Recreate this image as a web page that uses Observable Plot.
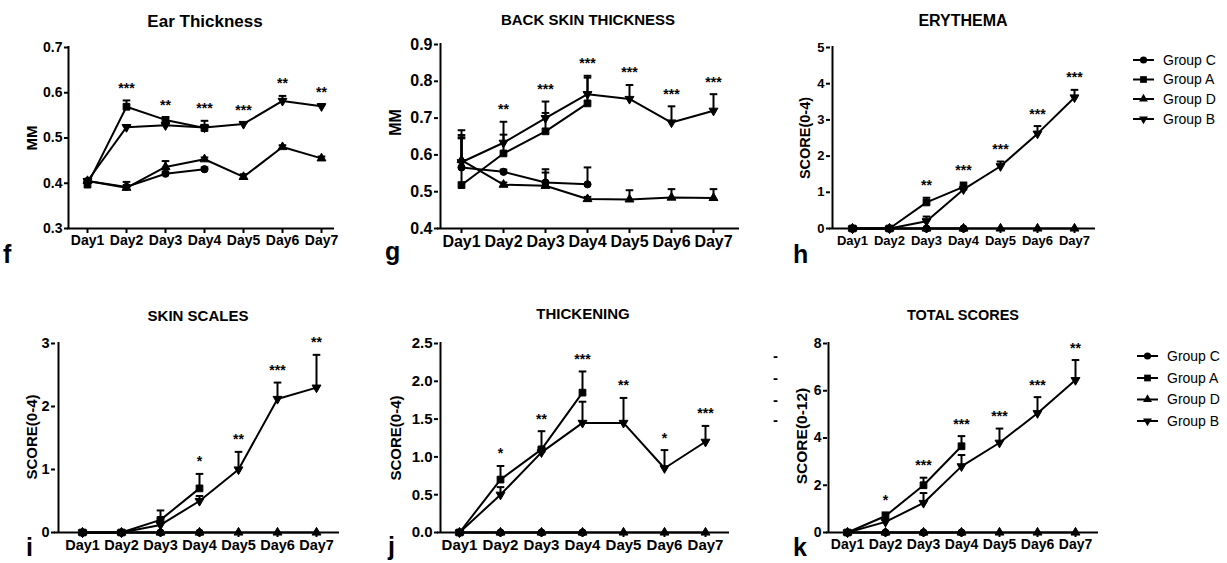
<!DOCTYPE html>
<html>
<head>
<meta charset="utf-8">
<script src="https://cdn.jsdelivr.net/npm/d3@7"></script>
<script src="https://cdn.jsdelivr.net/npm/@observablehq/plot@0.6"></script>
<style>
html,body{margin:0;padding:0;background:#fff;}
#fig{position:relative;width:1227px;height:563px;overflow:hidden;background:#fff;color:#000;}
#fig svg{position:absolute;}
</style>
</head>
<body>
<div id="fig"></div>
<script>
// ---------- shared categories ----------
const days = ["Day1","Day2","Day3","Day4","Day5","Day6","Day7"];
const groups = ["Group C","Group A","Group D","Group B"];

// ---------- f: Ear Thickness (MM) ----------
const earC = [0.405, 0.392, 0.421, 0.431];
const earCErr = [0.004, 0.004, 0.005, 0.004];
const earA = [0.397, 0.569, 0.540, 0.522];
const earAErr = [0.006, 0.014, 0.006, 0.016];
const earD = [0.405, 0.390, 0.436, 0.453, 0.414, 0.480, 0.455];
const earDErr = [0.004, 0.013, 0.013, 0.004, 0.006, 0.004, 0.004];
const earB = [0.405, 0.524, 0.528, 0.523, 0.531, 0.582, 0.570];
const earBErr = [0.004, 0.004, 0.006, 0.006, 0.003, 0.011, 0.005];
const earStars = ["", "***", "**", "***", "***", "**", "**"];
const earTicks = [0.3, 0.4, 0.5, 0.6, 0.7];

// ---------- g: Back skin thickness (MM) ----------
const backC = [0.566, 0.554, 0.525, 0.520];
const backCErr = [0.082, 0.006, 0.036, 0.046];
const backA = [0.518, 0.604, 0.664, 0.740];
const backAErr = [0.127, 0.086, 0.050, 0.070];
const backD = [0.586, 0.519, 0.516, 0.480, 0.479, 0.484, 0.483];
const backDErr = [0.068, 0.006, 0.036, 0.006, 0.025, 0.023, 0.024];
const backB = [0.580, 0.633, 0.700, 0.765, 0.752, 0.688, 0.720];
const backBErr = [0.087, 0.022, 0.045, 0.050, 0.038, 0.044, 0.045];
const backStars = ["", "**", "***", "***", "***", "***", "***"];
const backTicks = [0.4, 0.5, 0.6, 0.7, 0.8, 0.9];

// ---------- h: Erythema score (0-4) ----------
const eryC = [0, 0, 0, 0];
const eryCErr = [0, 0, 0, 0];
const eryA = [0, 0, 0.72, 1.15];
const eryAErr = [0, 0, 0.13, 0.12];
const eryD = [0, 0, 0, 0, 0, 0, 0];
const eryDErr = [0, 0, 0, 0, 0, 0, 0];
const eryB = [0, 0, 0.20, 1.08, 1.72, 2.62, 3.62];
const eryBErr = [0, 0, 0.13, 0.06, 0.13, 0.21, 0.21];
const eryStars = ["", "", "**", "***", "***", "***", "***"];
const eryTicks = [0, 1, 2, 3, 4, 5];

// ---------- i: Skin scales score (0-4) ----------
const scaC = [0, 0, 0, 0];
const scaCErr = [0, 0, 0, 0];
const scaA = [0, 0, 0.20, 0.70];
const scaAErr = [0, 0, 0.15, 0.23];
const scaD = [0, 0, 0, 0, 0, 0, 0];
const scaDErr = [0, 0, 0, 0, 0, 0, 0];
const scaB = [0, 0, 0.12, 0.50, 1.00, 2.12, 2.30];
const scaBErr = [0, 0, 0.10, 0.08, 0.28, 0.26, 0.52];
const scaStars = ["", "", "", "*", "**", "***", "**"];
const scaTicks = [0, 1, 2, 3];

// ---------- j: Thickening score (0-4) ----------
const thkC = [0, 0, 0, 0];
const thkCErr = [0, 0, 0, 0];
const thkA = [0, 0.70, 1.10, 1.85];
const thkAErr = [0, 0.18, 0.24, 0.28];
const thkD = [0, 0, 0, 0, 0, 0, 0];
const thkDErr = [0, 0, 0, 0, 0, 0, 0];
const thkB = [0, 0.50, 1.06, 1.45, 1.45, 0.85, 1.20];
const thkBErr = [0, 0.10, 0.06, 0.28, 0.33, 0.24, 0.21];
const thkStars = ["", "*", "**", "***", "**", "*", "***"];
const thkTicks = [0, 0.5, 1.0, 1.5, 2.0, 2.5];

// ---------- k: Total scores (0-12) ----------
const totC = [0, 0, 0, 0];
const totCErr = [0, 0, 0, 0];
const totA = [0, 0.70, 2.00, 3.65];
const totAErr = [0, 0.15, 0.32, 0.43];
const totD = [0, 0, 0, 0, 0, 0, 0];
const totDErr = [0, 0, 0, 0, 0, 0, 0];
const totB = [0, 0.45, 1.25, 2.80, 3.80, 5.05, 6.45];
const totBErr = [0, 0.10, 0.42, 0.48, 0.60, 0.68, 0.85];
const totStars = ["", "*", "***", "***", "***", "***", "**"];
const totTicks = [0, 2, 4, 6, 8];

// ---------- styling helpers ----------
const FONT = "'Liberation Sans', Arial, Helvetica, sans-serif";
const sqrt3 = Math.sqrt(3);
const triDown = {draw(ctx, size) {
  const y = -Math.sqrt(size / (sqrt3 * 3));
  ctx.moveTo(0, -y * 2); ctx.lineTo(-sqrt3 * y, y); ctx.lineTo(sqrt3 * y, y); ctx.closePath();
}};
const capSym = {draw(ctx, size) {
  const w = Math.sqrt(size / Math.PI);
  ctx.moveTo(-w, 0); ctx.lineTo(w, 0);
}};
const symbolOf = {"Group C": d3.symbolCircle, "Group A": d3.symbolSquare, "Group D": d3.symbolTriangle, "Group B": triDown};
const rOf = {"Group C": 3.6, "Group A": 3.8, "Group D": 3.3, "Group B": 3.3};
const drawOrder = ["Group D", "Group B", "Group C", "Group A"];

const fig = document.getElementById("fig");

function panel(cfg) {
  const L = cfg.lay;
  const mL = 60, mT = 14, mR = 12, mB = 32;
  const W = L.R - L.L + mL + mR, H = L.B - L.T + mT + mB;
  const span = L.R - L.L, step = (L.last - L.first) / (days.length - 1);
  const padding = (span / step - (days.length - 1)) / 2;
  const align = (L.first - L.L) / (span - (days.length - 1) * step);

  const rows = [];
  for (const g of groups) {
    const [vals, errs] = cfg.series[g];
    vals.forEach((v, i) => rows.push({group: g, day: days[i], v, hi: v + errs[i]}));
  }
  const withErr = rows.filter(r => r.hi > r.v);
  const starRows = days.map((d, i) => ({
    day: d, s: cfg.stars[i],
    y: d3.max(rows.filter(r => r.day === d), r => r.hi)
  })).filter(r => r.s);

  const marks = [
    Plot.ruleY([cfg.ticks[0]], {stroke: "black", strokeWidth: 2, strokeLinecap: "square"}),
    Plot.ruleX([days[0]], {dx: -(L.first - L.L), stroke: "black", strokeWidth: 2, strokeLinecap: "square"}),
    Plot.line(rows, {x: "day", y: "v", z: "group", stroke: "black", strokeWidth: 2}),
    Plot.ruleX(withErr, {x: "day", y1: "v", y2: "hi", stroke: "black", strokeWidth: 2}),
    Plot.dot(withErr, {x: "day", y: "hi", symbol: capSym, r: 3.8, stroke: "black", strokeWidth: 2, fill: "none"})
  ];
  for (const g of drawOrder) {
    marks.push(Plot.dot(rows.filter(r => r.group === g), {
      x: "day", y: "v", symbol: symbolOf[g], r: rOf[g], fill: "black", stroke: "black", strokeWidth: 1
    }));
  }
  marks.push(Plot.text(starRows, {x: "day", y: "y", text: "s", dy: -12, fontSize: 14, fontWeight: "bold", fill: "black"}));

  const svg = Plot.plot({
    width: W, height: H,
    marginLeft: mL, marginTop: mT, marginRight: mR, marginBottom: mB,
    style: {fontFamily: FONT, fontWeight: "bold", fontSize: cfg.fs + "px", color: "black",
            background: "transparent", overflow: "visible"},
    x: {type: "point", domain: days, padding, align, label: null, tickSize: 5, tickPadding: 2},
    y: {domain: [cfg.ticks[0], cfg.ticks[cfg.ticks.length - 1]], ticks: cfg.ticks,
        tickFormat: cfg.fmt, label: null, tickSize: 4, tickPadding: 2},
    marks
  });
  svg.style.position = "absolute";
  svg.style.left = (L.L - mL) + "px";
  svg.style.top = (L.T - mT) + "px";
  svg.style.maxWidth = "none";
  d3.select(svg).selectAll('g[aria-label*="axis"] line, g[aria-label*="axis"] path')
    .style("stroke-width", "2px").style("stroke", "black");
  fig.appendChild(svg);
}

const f1 = d3.format(".1f"), f0 = d3.format("d");

panel({lay: {L: 68, T: 47, R: 333, B: 228, first: 87, last: 321}, fs: 14,
  ticks: earTicks, fmt: f1, stars: earStars,
  series: {"Group C": [earC, earCErr], "Group A": [earA, earAErr], "Group D": [earD, earDErr], "Group B": [earB, earBErr]}});
panel({lay: {L: 438, T: 44, R: 738, B: 228, first: 459, last: 716}, fs: 16,
  ticks: backTicks, fmt: f1, stars: backStars,
  series: {"Group C": [backC, backCErr], "Group A": [backA, backAErr], "Group D": [backD, backDErr], "Group B": [backB, backBErr]}});
panel({lay: {L: 830, T: 47, R: 1094, B: 228, first: 850, last: 1075}, fs: 13,
  ticks: eryTicks, fmt: f0, stars: eryStars,
  series: {"Group C": [eryC, eryCErr], "Group A": [eryA, eryAErr], "Group D": [eryD, eryDErr], "Group B": [eryB, eryBErr]}});
panel({lay: {L: 55, T: 343, R: 338, B: 532, first: 79, last: 318}, fs: 14.5,
  ticks: scaTicks, fmt: f0, stars: scaStars,
  series: {"Group C": [scaC, scaCErr], "Group A": [scaA, scaAErr], "Group D": [scaD, scaDErr], "Group B": [scaB, scaBErr]}});
panel({lay: {L: 438, T: 343, R: 728, B: 532, first: 457, last: 708}, fs: 15,
  ticks: thkTicks, fmt: f1, stars: thkStars,
  series: {"Group C": [thkC, thkCErr], "Group A": [thkA, thkAErr], "Group D": [thkD, thkDErr], "Group B": [thkB, thkBErr]}});
panel({lay: {L: 827, T: 343, R: 1097, B: 532, first: 846, last: 1077}, fs: 14,
  ticks: totTicks, fmt: f0, stars: totStars,
  series: {"Group C": [totC, totCErr], "Group A": [totA, totAErr], "Group D": [totD, totDErr], "Group B": [totB, totBErr]}});

// ---------- overlay: titles, axis labels, panel letters, legends ----------
const ov = d3.select(fig).append("svg")
  .attr("width", 1227).attr("height", 563)
  .style("left", "0px").style("top", "0px")
  .attr("font-family", FONT).attr("fill", "black");

const titles = [
  ["Ear Thickness", 205, 26.5, 17], ["BACK SKIN THICKNESS", 588, 24.7, 15], ["ERYTHEMA", 963, 25.5, 16],
  ["SKIN SCALES", 198, 321.2, 15], ["THICKENING", 583, 319.2, 15], ["TOTAL SCORES", 963, 319.5, 14.5]
];
for (const [t, x, y, fs] of titles) {
  ov.append("text").attr("x", x).attr("y", y).attr("text-anchor", "middle")
    .attr("font-weight", "bold").attr("font-size", fs).text(t);
}
const ylabels = [
  ["MM", 37, 138, 15], ["MM", 401, 122.5, 16], ["SCORE(0-4)", 810, 138, 14.5],
  ["SCORE(0-4)", 36.5, 437, 15], ["SCORE(0-4)", 400.5, 438, 15], ["SCORE(0-12)", 806.5, 436, 15.5]
];
for (const [t, x, y, fs] of ylabels) {
  ov.append("text").attr("transform", `translate(${x},${y}) rotate(-90)`).attr("text-anchor", "middle")
    .attr("font-weight", "bold").attr("font-size", fs).text(t);
}
const letters = [["f", 3, 263], ["g", 385, 260], ["h", 793, 263], ["i", 26, 556], ["j", 388, 555], ["k", 793, 556]];
for (const [t, x, y] of letters) {
  ov.append("text").attr("x", x).attr("y", y).attr("font-weight", "bold").attr("font-size", 25).text(t);
}
for (const y of [356, 378, 400, 420]) {
  ov.append("text").attr("x", 775.5).attr("y", y).attr("dy", "0.32em").attr("text-anchor", "middle")
    .attr("font-weight", "bold").attr("font-size", 15).text("-");
}
function legend(x0, ys) {
  groups.forEach((g, i) => {
    const y = ys[i];
    ov.append("line").attr("x1", x0).attr("x2", x0 + 21).attr("y1", y).attr("y2", y)
      .attr("stroke", "black").attr("stroke-width", 2);
    ov.append("path").attr("transform", `translate(${x0 + 10.5},${y})`)
      .attr("d", d3.symbol(symbolOf[g], Math.PI * rOf[g] * rOf[g])());
    ov.append("text").attr("x", x0 + 30).attr("y", y).attr("dy", "0.35em")
      .attr("font-size", 14).text(g);
  });
}
legend(1133, [60, 79.5, 99, 119]);
legend(1137, [356, 378, 399.5, 421]);
</script>
</body>
</html>
